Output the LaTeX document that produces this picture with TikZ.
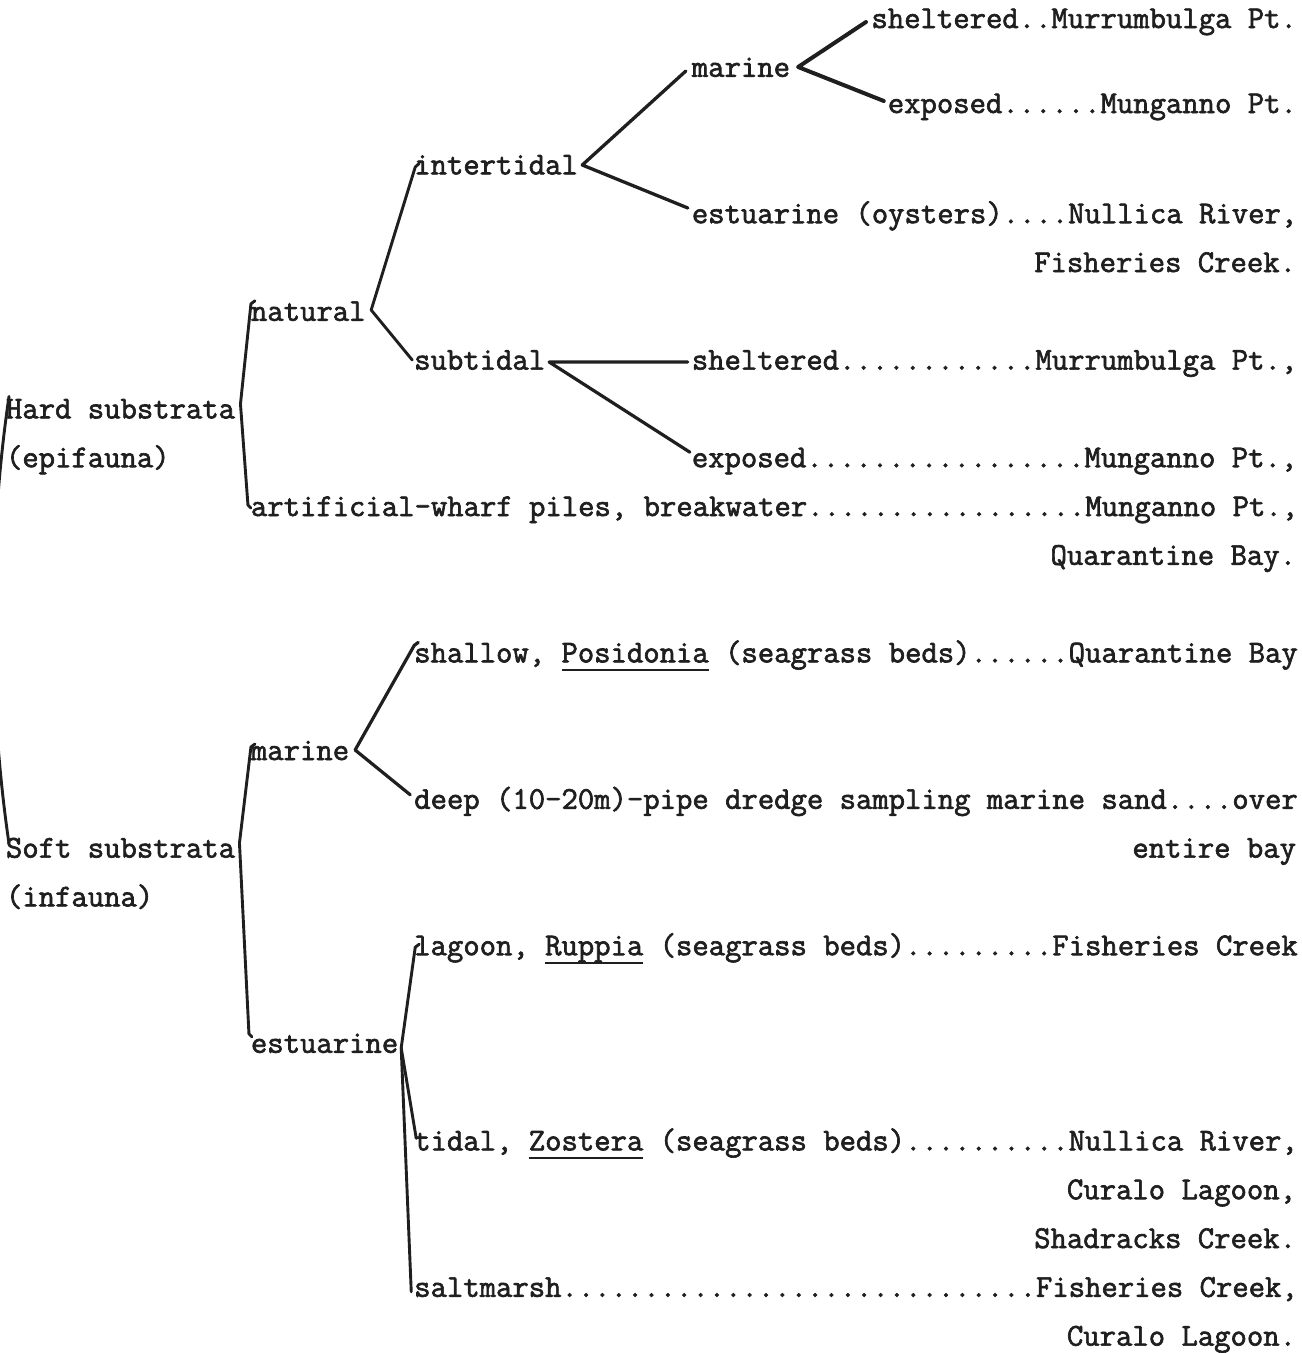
\documentclass[tikz,border=0pt]{standalone}
\usepackage{fontspec}
\newfontfamily\tyfont{Latin Modern Mono}[FakeBold=2]
\usetikzlibrary{calc}
\definecolor{ink}{gray}{0.12}
\newcommand{\tyul}[1]{\setbox0=\hbox{#1}\rlap{\rule[-9pt]{\wd0}{2.6pt}}\box0\relax}
\tikzset{
  lbl/.style={font=\fontsize{31.77pt}{31.77pt}\selectfont\tyfont, inner sep=0pt, outer sep=0pt, anchor=base west, text=ink},
  rlbl/.style={lbl, anchor=base east},
  br/.style={draw=ink, line width=2.9pt, line cap=round, line join=round},
  brk/.style={br, line width=4pt},
}
\begin{document}
\begin{tikzpicture}[x=1pt,y=-1pt]
\useasboundingbox (0,0) rectangle (1302,1353);
\fill[white] (0,0) rectangle (1302,1353);
\clip (0,0) rectangle (1302,1353);

% ---------- Hard substrata ----------
\node[lbl] (hard) at (6,{28+8*48.8}) {Hard substrata};
\node[lbl] (epi) at (6,{28+9*48.8}) {(epifauna)};
\node[lbl] (natural) at ({6+15*16.33},{28+6*48.8}) {natural};
\node[lbl] (artif) at ({6+15*16.33},{28+10*48.8}) {artificial-wharf piles, breakwater.................Munganno Pt.,};
\node[rlbl] (qbay) at (1296,{28+11*48.8}) {Quarantine Bay.};
\node[lbl] (intert) at ({6+25*16.33},{28+3*48.8}) {intertidal};
\node[lbl] (subt) at ({6+25*16.33},{28+7*48.8}) {subtidal};
\node[lbl] (mar1) at ({6+42*16.33},{28+1*48.8}) {marine};
\node[lbl] (shelt1) at ({6+53*16.33},28) {sheltered..Murrumbulga Pt.};
\node[lbl] (expo1) at ({6+54*16.33},113) {exposed......Munganno Pt.};
\node[lbl] (estu1) at ({6+42*16.33},{28+4*48.8}) {estuarine (oysters)....Nullica River,};
\node[rlbl] (fish1) at (1296,{28+5*48.8}) {Fisheries Creek.};
\node[lbl] (shelt2) at ({6+42*16.33},{28+7*48.8}) {sheltered............Murrumbulga Pt.,};
\node[lbl] (expo2) at ({6+42*16.33},{28+9*48.8}) {exposed.................Munganno Pt.,};

% ---------- Soft substrata ----------
\node[lbl] (soft) at (6,{28+17*48.8}) {Soft substrata};
\node[lbl] (infa) at (6,{28+18*48.8}) {(infauna)};
\node[lbl] (mar2) at ({6+15*16.33},{28+15*48.8}) {marine};
\node[lbl] (estu2) at ({6+15*16.33},{28+21*48.8}) {estuarine};
\node[lbl] (shallow) at ({6+25*16.33},{28+13*48.8}) {shallow, \tyul{Posidonia} (seagrass beds)......Quarantine Bay};
\node[lbl] (deep) at ({6+25*16.33},{28+16*48.8}) {deep (10-20m)-pipe dredge sampling marine sand....over};
\node[rlbl] (entire) at (1296,{28+17*48.8}) {entire bay};
\node[lbl] (lagoon) at ({6+25*16.33},{28+19*48.8}) {lagoon, \tyul{Ruppia} (seagrass beds).........Fisheries Creek};
\node[lbl] (tidal) at ({6+25*16.33},{28+23*48.8}) {tidal, \tyul{Zostera} (seagrass beds)..........Nullica River,};
\node[rlbl] (cur1) at (1296,{28+24*48.8}) {Curalo Lagoon,};
\node[rlbl] (shad) at (1296,{28+25*48.8}) {Shadracks Creek.};
\node[lbl] (salt) at ({6+25*16.33},{28+26*48.8}) {saltmarsh.............................Fisheries Creek,};
\node[rlbl] (cur2) at (1296,{28+27*48.8}) {Curalo Lagoon.};

% ---------- junction coordinates ----------
\coordinate (jh) at ($(hard.base east)+(5.4,-14.4)$);
\coordinate (jn) at ($(natural.base east)+(5.7,-10.8)$);
\coordinate (ji) at ($(intert.base east)+(4.4,-9.4)$);
\coordinate (jm) at ($(mar1.base east)+(8.1,-9.8)$);
\coordinate (js) at ($(subt.base east)+(4,-7.6)$);
\coordinate (jso) at ($(soft.base east)+(4.4,-14.6)$);
\coordinate (jms) at ($(mar2.base east)+(6,-10)$);
\coordinate (je) at ($(estu2.base east)+(3,-5)$);

% ---------- connectors ----------
% root
\draw[br] ($(hard.base west)+(3,-22)$) .. controls (-12,540) and (-12,700) .. ($(soft.base west)+(3,-14)$);
% hard substrata
\draw[br] ($(natural.base west)+(4,-20)$) -- ($(natural.base west)+(0,-17)$) -- (jh)
          -- ($(artif.base west)+(-3,-11)$) -- ($(artif.base west)+(0,-8)$);
% natural
\draw[br] ($(intert.base west)+(5,-11)$) -- ($(intert.base west)+(1,-7.4)$) -- (jn)
          -- ($(subt.base west)+(-2,-9.6)$);
% intertidal
\draw[br, line width=3.3pt] ($(mar1.base west)+(-6,-5.8)$) -- (ji) -- ($(estu1.base west)+(-4,-15.2)$);
% marine (intertidal)
\draw[brk] ($(shelt1.base west)+(-5.5,-6)$) -- (jm) -- ($(expo1.base west)+(-4,-12)$);
% subtidal
\draw[br, line width=3.2pt] ($(shelt2.base west)+(-4,-7.6)$) -- (js) -- ($(expo2.base west)+(-2,-15)$);
% soft substrata
\draw[br] ($(mar2.base west)+(4,-16)$) -- ($(mar2.base west)+(0,-13)$) -- (jso)
          -- ($(estu2.base west)+(-2,-19)$) -- ($(estu2.base west)+(1,-16)$);
% marine (soft)
\draw[br, line width=3.2pt] ($(shallow.base west)+(4,-20)$) -- ($(shallow.base west)+(0,-17)$) -- (jms)
          -- ($(deep.base west)+(-4,-14)$);
% estuarine (soft)
\draw[br] ($(lagoon.base west)+(5,-11)$) -- ($(lagoon.base west)+(1,-8)$) -- (je)
          -- ($(tidal.base west)+(2,-12)$);
\draw[br] (je) -- ($(salt.base west)+(-3,-5)$);
\end{tikzpicture}
\end{document}
